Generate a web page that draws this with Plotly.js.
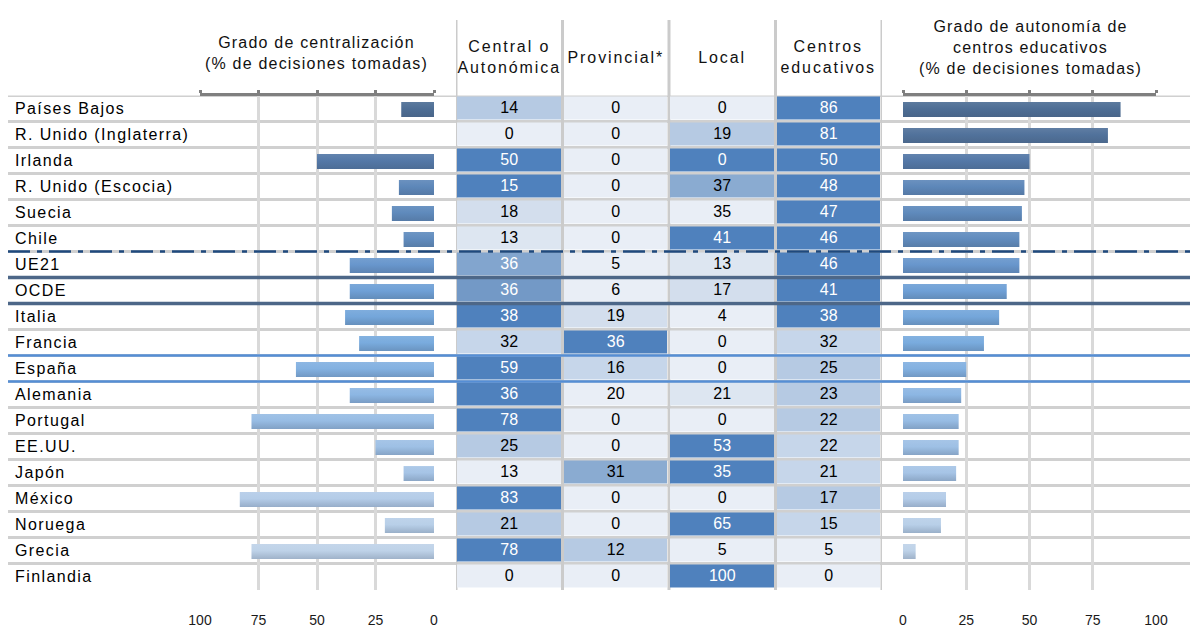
<!DOCTYPE html>
<html><head><meta charset="utf-8">
<script src="https://cdn.plot.ly/plotly-3.0.1.min.js"></script>
<style>
html,body{margin:0;padding:0;background:#fff;}
#chart{width:1190px;height:628px;}
</style></head><body><div id="chart"></div>
<script>
// ---------- DATA ----------
const countries = ["Países Bajos","R. Unido (Inglaterra)","Irlanda","R. Unido (Escocia)","Suecia","Chile","UE21","OCDE","Italia","Francia","España","Alemania","Portugal","EE.UU.","Japón","México","Noruega","Grecia","Finlandia"];
const central    = [14, 0,50,15,18,13,36,36,38,32,59,36,78,25,13,83,21,78,  0];
const provincial = [ 0, 0, 0, 0, 0, 0, 5, 6,19,36,16,20, 0, 0,31, 0, 0,12,  0];
const local      = [ 0,19, 0,37,35,41,13,17, 4, 0, 0,21, 0,53,35, 0,65, 5,100];
const centros    = [86,81,50,48,47,46,46,41,38,32,25,23,22,22,21,17,15, 5,  0];
const columnLabels = ["Central o<br>Autonómica","Provincial*","Local","Centros<br>educativos"];
const axisTicks = [0,25,50,75,100];
const leftTitle = "Grado de centralización<br>(% de decisiones tomadas)";
const rightTitle = "Grado de autonomía de<br>centros educativos<br>(% de decisiones tomadas)";

// ---------- STYLES ----------
const FONT = "Liberation Sans, Arial, sans-serif";
const W = 1190, H = 628;
const px = x => x / W, py = y => 1 - y / H;
const rowTop = 95.5, rowH = 26, nRows = countries.length;

const shadePalette = {D:'#4f81bd', M1:'#7399c6', M2:'#82a5ce', M3:'#8aabd1', L1:'#b6cae3', L2:'#c6d6ea', L3:'#d3deed', L4:'#dde6f1', Z:'#e9eef6'};
const cellShade = [
 ['L1','Z','Z','D'], ['Z','Z','L1','D'], ['D','Z','D','D'], ['D','Z','M3','D'],
 ['L3','Z','Z','D'], ['L4','Z','D','D'], ['M2','Z','L4','D'], ['M1','Z','L3','D'],
 ['D','L3','Z','D'], ['L2','D','Z','L2'], ['D','L2','Z','L1'], ['D','Z','L4','L1'],
 ['D','Z','Z','L1'], ['L1','Z','D','L2'], ['Z','M3','D','L2'], ['D','Z','Z','L1'],
 ['L1','Z','D','L2'], ['D','L1','Z','Z'], ['Z','Z','D','Z']
];
const barBase = ['#4a6b93','#4d6f99','#5075a5','#5a85b8','#5c88bb','#5e8abd','#6594cb','#6c9ed5','#71a4d9','#76a9dd','#80afe0','#8ab4e2','#95bbe3','#9cbfe4','#a4c3e5','#b2cbe8','#b7cee8','#bdd1e8','#c4d5e9'];

function hex2rgb(h){h=h.replace('#','');return [0,2,4].map(i=>parseInt(h.substr(i,2),16));}
function mix(a,b,t){const A=hex2rgb(a),B=hex2rgb(b);return 'rgb('+A.map((v,i)=>Math.round(v+(B[i]-v)*t)).join(',')+')';}
function lum(h){const c=hex2rgb(h);return (0.299*c[0]+0.587*c[1]+0.114*c[2])/255;}

const rowIdx = countries.map((c,i)=>i);
const traces = [];
const barThick = 0.575, barShift = 0.04;

traces.push({type:'bar', orientation:'h', x:central, y:rowIdx, offset:-barThick/2+barShift, width:barThick,
  marker:{color:barBase, line:{width:0}}, xaxis:'x', yaxis:'y', hoverinfo:'skip', showlegend:false});
traces.push({type:'bar', orientation:'h', x:centros, y:rowIdx, offset:-barThick/2+barShift, width:barThick,
  marker:{color:barBase, line:{width:0}}, xaxis:'x2', yaxis:'y', hoverinfo:'skip', showlegend:false});
// invisible traces for top overlay axes
traces.push({type:'scatter', x:[0], y:[0], mode:'markers', marker:{opacity:0}, xaxis:'x3', yaxis:'y', hoverinfo:'skip', showlegend:false});
traces.push({type:'scatter', x:[0], y:[0], mode:'markers', marker:{opacity:0}, xaxis:'x4', yaxis:'y', hoverinfo:'skip', showlegend:false});

// table heatmap
const paletteKeys = Object.keys(shadePalette), nP = paletteKeys.length;
const colorscale = [];
paletteKeys.forEach((k,i)=>{colorscale.push([i/nP, shadePalette[k]]); colorscale.push([(i+1)/nP, shadePalette[k]]);});
const tableValues = countries.map((c,i)=>[central[i],provincial[i],local[i],centros[i]]);
const zIdx = cellShade.map(r=>r.map(k=>paletteKeys.indexOf(k)+0.5));
traces.push({type:'heatmap', x:[0,1,2,3], y:rowIdx, z:zIdx, zmin:0, zmax:nP, colorscale:colorscale,
  showscale:false, xgap:3, ygap:3, xaxis:'x5', yaxis:'y', hoverinfo:'skip'});
// table text
const tx=[], ty=[], tt=[], tc=[];
tableValues.forEach((row,i)=>row.forEach((v,j)=>{tx.push(j);ty.push(i);tt.push(String(v));
  tc.push(lum(shadePalette[cellShade[i][j]]) < 0.635 ? '#ffffff' : '#000000');}));
traces.push({type:'scatter', mode:'text', x:tx, y:ty, text:tt, textposition:'middle center',
  textfont:{family:FONT, size:16, color:tc}, xaxis:'x5', yaxis:'y', hoverinfo:'skip', showlegend:false});

// ---------- LAYOUT ----------
const yDomain = [py(rowTop + rowH*nRows), py(rowTop)];
const bottomAxis = (dom, rng) => ({domain:dom, range:rng, anchor:'y', side:'bottom', tickvals:axisTicks,
  ticktext:axisTicks.map(String), showgrid:true, gridcolor:'#d9d9d9', gridwidth:3, zeroline:false, showline:false,
  ticks:'outside', ticklen:18, tickcolor:'rgba(0,0,0,0)', tickfont:{family:FONT, size:14, color:'#1a1a1a'}, fixedrange:true});
const topAxis = (ov, rng) => ({overlaying:ov, range:rng, anchor:'y', side:'top', tickvals:axisTicks, showticklabels:false,
  showgrid:false, zeroline:false, showline:true, linecolor:'#7f7f7f', linewidth:3, ticks:'outside', ticklen:3,
  tickwidth:3, tickcolor:'#7f7f7f', fixedrange:true});

const shapes = [];
for (let k = 0; k < nRows; k++) {
  shapes.push({type:'line', xref:'paper', yref:'y', x0:px(8), x1:1, y0:k-0.5, y1:k-0.5, layer:'below',
    line:{color:'#d0d0d0', width:3}});
}
for (let j = 0; j <= 4; j++) {
  shapes.push({type:'line', xref:'x5', yref:'paper', x0:j-0.5, x1:j-0.5, y0:py(590), y1:py(20), layer:'below',
    line:{color:'#cbcbcb', width:3}});
}
const sepLine = (k, color, width, dash) => ({type:'line', xref:'paper', yref:'y', x0:px(8), x1:1, y0:k+0.5, y1:k+0.5,
  layer:'above', line:{color:color, width:width, dash:dash}});
shapes.push(sepLine(countries.indexOf('Chile'), '#1f497d', 2.5, '22px,7px,5px,7px'));
shapes.push(sepLine(countries.indexOf('UE21'), '#4d6788', 3.5, 'solid'));
shapes.push(sepLine(countries.indexOf('OCDE'), '#4d6788', 3.5, 'solid'));
shapes.push(sepLine(countries.indexOf('Francia'), '#558ed5', 2.5, 'solid'));
shapes.push(sepLine(countries.indexOf('España'), '#558ed5', 2.5, 'solid'));

const annotations = [];
countries.forEach((c,i)=>annotations.push({xref:'paper', yref:'y', x:px(13), y:i, text:c, showarrow:false,
  xanchor:'left', yanchor:'middle', align:'left', font:{family:FONT, size:16, color:'#000'}}));
columnLabels.forEach((c,j)=>annotations.push({xref:'x5', yref:'paper', x:j, y:py(57), text:c, showarrow:false,
  xanchor:'center', yanchor:'middle', font:{family:FONT, size:16, color:'#111'}}));
annotations.push({xref:'paper', yref:'paper', x:px(316), y:py(53), text:leftTitle, showarrow:false,
  xanchor:'center', yanchor:'middle', font:{family:FONT, size:16, color:'#111'}});
annotations.push({xref:'paper', yref:'paper', x:px(1030), y:py(48), text:rightTitle, showarrow:false,
  xanchor:'center', yanchor:'middle', font:{family:FONT, size:16, color:'#111'}});

// letter spacing per annotation group (labels, headers, titles)
const css = [];
for (let i = 0; i < nRows; i++) css.push(`.annotation[data-index="${i}"] .annotation-text{letter-spacing:1.4px}`);
for (let i = nRows; i < nRows+4; i++) css.push(`.annotation[data-index="${i}"] .annotation-text{letter-spacing:1.9px}`);
for (let i = nRows+4; i < nRows+6; i++) css.push(`.annotation[data-index="${i}"] .annotation-text{letter-spacing:1.2px}`);
const st = document.createElement('style'); st.textContent = css.join('\n'); document.head.appendChild(st);

const layout = {
  width:W, height:H, margin:{l:0,r:0,t:0,b:0}, paper_bgcolor:'#fff', plot_bgcolor:'rgba(0,0,0,0)',
  showlegend:false, barmode:'overlay', font:{family:FONT},
  xaxis: bottomAxis([px(200), px(434)], [100, 0]),
  xaxis2: bottomAxis([px(903), px(1156)], [0, 100]),
  xaxis3: topAxis('x', [100, 0]),
  xaxis4: topAxis('x2', [0, 100]),
  xaxis5: {domain:[px(456), px(882)], range:[-0.5, 3.5], anchor:'y', visible:false, fixedrange:true},
  yaxis: {domain:yDomain, range:[nRows-0.5, -0.5], visible:false, fixedrange:true},
  shapes:shapes, annotations:annotations
};
Plotly.newPlot('chart', traces, layout, {staticPlot:true, displayModeBar:false}).then(gd => {
  // vertical gradient fill for the bars (lighter top, darker bottom)
  const svg = gd.querySelector('.main-svg');
  let defs = svg.querySelector('defs');
  if (!defs) { defs = document.createElementNS('http://www.w3.org/2000/svg','defs'); svg.insertBefore(defs, svg.firstChild); }
  barBase.forEach((c,i) => {
    const g = document.createElementNS('http://www.w3.org/2000/svg','linearGradient');
    g.setAttribute('id','barGrad'+i); g.setAttribute('x1','0'); g.setAttribute('y1','0'); g.setAttribute('x2','0'); g.setAttribute('y2','1');
    [[0, mix(c,'#ffffff',0.10)],[0.45, mix(c,'#ffffff',0.02)],[1, mix(c,'#44546a',0.25)]].forEach(([o,col]) => {
      const s = document.createElementNS('http://www.w3.org/2000/svg','stop');
      s.setAttribute('offset', o); s.setAttribute('stop-color', col); g.appendChild(s);
    });
    defs.appendChild(g);
  });
  gd.querySelectorAll('.barlayer .trace').forEach(tr => {
    tr.querySelectorAll('.point').forEach((pt, k) => {
      const d = pt.__data__; const i = (d && d.i !== undefined) ? d.i : k;
      const p = pt.querySelector('path'); if (p) p.style.fill = 'url(#barGrad'+i+')';
    });
  });
});
</script></body></html>
